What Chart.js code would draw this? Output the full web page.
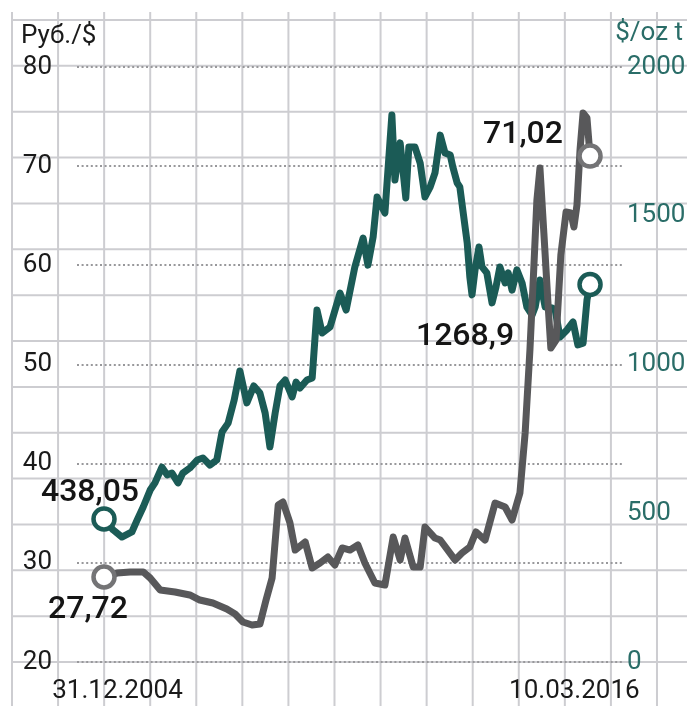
<!DOCTYPE html>
<html><head><meta charset="utf-8">
<script src="https://cdn.jsdelivr.net/npm/chart.js@4.4.1/dist/chart.umd.min.js"></script>
<style>html,body{margin:0;padding:0;background:#fff}canvas{display:block}</style>
</head><body>
<canvas id="c" width="687" height="706"></canvas>
<script>
// ---- data (decimal years) ----
const rubYears = [2005.00,2005.30,2005.60,2005.90,2006.06,2006.29,2006.63,2006.97,2007.20,2007.50,2007.82,2008.01,2008.19,2008.40,2008.58,2008.72,2008.86,2009.00,2009.11,2009.27,2009.39,2009.62,2009.78,2009.96,2010.14,2010.30,2010.47,2010.65,2010.83,2010.99,2011.22,2011.45,2011.64,2011.80,2011.91,2012.10,2012.26,2012.37,2012.60,2012.72,2013.06,2013.22,2013.40,2013.54,2013.75,2013.98,2014.21,2014.37,2014.55,2014.67,2014.78,2014.87,2014.94,2015.01,2015.10,2015.20,2015.26,2015.38,2015.49,2015.61,2015.72,2015.79,2015.86,2015.93,2016.00,2016.09,2016.16];
const rubValues = [28.57,28.97,29.08,29.08,28.47,27.26,27.06,26.76,26.25,25.95,25.34,24.84,24.03,23.73,23.83,26.25,28.47,35.83,36.13,34.02,31.29,32.10,29.48,29.98,30.59,29.78,31.50,31.29,31.80,29.98,27.97,27.76,32.60,30.29,32.50,29.58,29.58,33.61,32.50,32.30,30.29,30.99,31.60,33.11,32.30,36.03,35.63,34.32,37.04,43.09,51.46,59.83,66.59,69.81,63.26,55.80,51.66,52.47,61.04,65.38,65.28,63.86,66.08,71.63,75.36,74.86,71.02];
const goldYears = [2005.00,2005.21,2005.41,2005.64,2005.76,2005.90,2006.06,2006.17,2006.33,2006.45,2006.56,2006.70,2006.81,2006.97,2007.14,2007.27,2007.43,2007.59,2007.71,2007.85,2007.99,2008.12,2008.28,2008.44,2008.58,2008.70,2008.81,2008.93,2009.04,2009.16,2009.32,2009.41,2009.50,2009.66,2009.78,2009.89,2010.01,2010.19,2010.42,2010.56,2010.76,2010.95,2011.06,2011.18,2011.27,2011.45,2011.61,2011.68,2011.80,2011.93,2012.00,2012.14,2012.26,2012.37,2012.49,2012.60,2012.72,2012.83,2012.95,2013.01,2013.11,2013.17,2013.24,2013.34,2013.40,2013.45,2013.52,2013.61,2013.68,2013.79,2013.91,2014.00,2014.09,2014.21,2014.28,2014.37,2014.48,2014.60,2014.71,2014.83,2014.90,2015.01,2015.13,2015.29,2015.36,2015.47,2015.63,2015.77,2015.88,2016.00,2016.09,2016.16];
const goldValues = [481,444,420,437,477,521,578,602,655,629,635,602,635,652,679,686,662,679,773,803,881,978,871,928,904,837,723,837,928,948,891,941,921,948,955,1183,1106,1126,1240,1183,1328,1425,1334,1429,1563,1509,1839,1620,1745,1560,1731,1731,1677,1563,1597,1644,1771,1711,1704,1664,1610,1597,1519,1408,1294,1234,1318,1395,1328,1308,1207,1260,1328,1274,1308,1250,1318,1274,1193,1166,1193,1284,1193,1190,1183,1092,1116,1143,1066,1072,1217,1268.9];
const xTickValues = [2005.31, 2015.80];
const xTickLabels = ['31.12.2004', '10.03.2016'];
const rubMarks = ['27,72', '71,02'];
const goldMarks = ['438,05', '1268,9'];
const leftTitle = 'Руб./$';
const rightTitle = '$/oz t';

const TEAL = '#1b5b56', TEAL_TXT = '#2a6d68', GRAY = '#58585a', GRAY_PT = '#747476', INK = '#1a1a1a';

const bgGrid = {
  id: 'bgGrid',
  beforeDraw(chart) {
    const ctx = chart.ctx;
    ctx.save();
    ctx.fillStyle = '#fff';
    ctx.fillRect(0, 0, chart.width, chart.height);
    ctx.strokeStyle = '#cdcdd1';
    ctx.lineWidth = 2;
    ctx.beginPath();
    for (let k = 0; k <= 14; k++) {
      const x = 12 + 46.07 * k;
      ctx.moveTo(x, 12); ctx.lineTo(x, chart.height);
      const y = 20 + 45.86 * k;
      ctx.moveTo(12, y); ctx.lineTo(chart.width, y);
    }
    ctx.stroke();
    ctx.restore();
  },
  afterDraw(chart) {
    const ctx = chart.ctx;
    ctx.save();
    ctx.font = '26px Roboto';
    ctx.textBaseline = 'alphabetic';
    ctx.fillStyle = INK; ctx.textAlign = 'left';
    ctx.fillText(leftTitle, 21, 43);
    ctx.fillStyle = TEAL_TXT; ctx.textAlign = 'right';
    ctx.fillText(rightTitle, 683, 40);
    ctx.restore();
  }
};

const marks = {
  id: 'marks',
  afterDatasetsDraw(chart) {
    const ctx = chart.ctx;
    const r = chart.getDatasetMeta(0).data, g = chart.getDatasetMeta(1).data;
    const r0 = r[0], r1 = r[r.length - 1], g0 = g[0], g1 = g[g.length - 1];
    ctx.save();
    ctx.font = '500 32px Roboto';
    ctx.fillStyle = '#151515';
    ctx.textAlign = 'center';
    ctx.textBaseline = 'alphabetic';
    ctx.fillText(rubMarks[0], r0.x - 16, r0.y + 41);
    ctx.fillText(rubMarks[1], r1.x - 67, r1.y - 13);
    ctx.fillText(goldMarks[0], g0.x - 14, g0.y - 18);
    ctx.fillText(goldMarks[1], g1.x - 125, g1.y + 60);
    ctx.restore();
  }
};

const endRadius = (ctx) => (ctx.dataIndex === 0 || ctx.dataIndex === ctx.dataset.data.length - 1) ? 10.5 : 0;

Chart.defaults.font.family = 'Roboto';

new Chart(document.getElementById('c'), {
  type: 'line',
  data: {
    datasets: [
      {
        label: 'RUB/USD',
        data: rubYears.map((x, i) => ({ x, y: rubValues[i] })),
        yAxisID: 'y',
        borderColor: GRAY, borderWidth: 7, tension: 0,
        borderJoinStyle: 'round', borderCapStyle: 'round',
        pointRadius: endRadius, pointHoverRadius: endRadius,
        pointBackgroundColor: '#fff', pointBorderColor: GRAY_PT, pointBorderWidth: 4.5
      },
      {
        label: 'Gold',
        data: goldYears.map((x, i) => ({ x, y: goldValues[i] })),
        yAxisID: 'y1',
        borderColor: TEAL, borderWidth: 7, tension: 0,
        borderJoinStyle: 'round', borderCapStyle: 'round',
        pointRadius: endRadius, pointHoverRadius: endRadius,
        pointBackgroundColor: '#fff', pointBorderColor: TEAL, pointBorderWidth: 4.5
      }
    ]
  },
  options: {
    responsive: false, animation: false, devicePixelRatio: 1,
    layout: { padding: { top: 67, left: 0, right: 0, bottom: 0 } },
    plugins: { legend: { display: false }, tooltip: { enabled: false } },
    scales: {
      x: {
        type: 'linear', min: 2004.38, max: 2016.917,
        afterBuildTicks: (s) => { s.ticks = xTickValues.map(v => ({ value: v })); },
        afterFit: (s) => { s.height = 44; },
        ticks: { autoSkip: false, maxRotation: 0, padding: 6, color: INK, font: { size: 26 },
                 callback: (v, i) => xTickLabels[i] },
        grid: { display: false }, border: { display: false }
      },
      y: {
        position: 'left', min: 20, max: 80,
        afterFit: (s) => { s.width = 77; },
        ticks: { stepSize: 10, padding: 25, color: INK, font: { size: 26 }, callback: (v) => String(v) },
        grid: { color: '#98989b', lineWidth: 2, drawTicks: false },
        border: { display: false, dash: [2, 2.6] }
      },
      y1: {
        position: 'right', min: 0, max: 2000,
        afterFit: (s) => { s.width = 64; },
        ticks: { stepSize: 500, padding: 4, color: TEAL_TXT, font: { size: 26 }, callback: (v) => String(v) },
        grid: { display: false, drawTicks: false }, border: { display: false }
      }
    }
  },
  plugins: [bgGrid, marks]
});
</script>
</body></html>
